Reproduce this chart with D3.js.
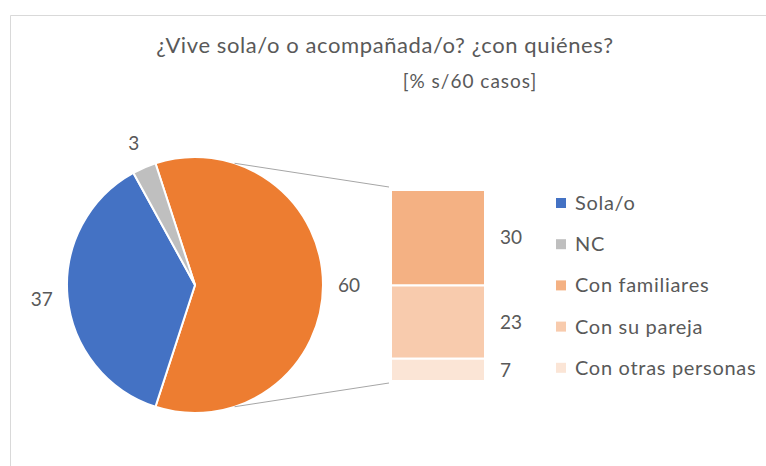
<!DOCTYPE html>
<html>
<head>
<meta charset="utf-8">
<style>
	body { margin: 0; background: #fff; }
	text { font-family: Lato, "Open Sans", sans-serif; fill: #595959; }
</style>
</head>
<body>
<div id="chart"></div>
<script src="https://d3js.org/d3.v7.min.js"></script>
<script>
	// data
	var mainCats = ["Sola/o", "NC"];
	var mainVals = [37, 3];
	var mainColors = ["#4472C4", "#BFBFBF"];
	var subCats = ["Con familiares", "Con su pareja", "Con otras personas"];
	var subVals = [30, 23, 7];
	var subColors = ["#F4B183", "#F8CBAD", "#FBE5D6"];
	var otherColor = "#ED7D31";

	var width = 766, height = 466;
	var cx = 195, cy = 285, r = 128;

	var svg = d3.select("#chart").append("svg")
		.attr("width", width)
		.attr("height", height);

	// chart frame
	svg.append("path")
		.attr("d", "M10.5," + height + "V15.5H" + width)
		.attr("fill", "none")
		.attr("stroke", "#D9D9D9")
		.attr("stroke-width", 1);

	// title
	svg.append("text")
		.attr("x", 385).attr("y", 53)
		.attr("text-anchor", "middle")
		.style("font-size", "22px")
		.style("letter-spacing", "0.6px")
		.text("¿Vive sola/o o acompañada/o? ¿con quiénes?");
	svg.append("text")
		.attr("x", 470).attr("y", 88)
		.attr("text-anchor", "middle")
		.style("font-size", "19px")
		.style("letter-spacing", "1px")
		.text("[% s/60 casos]");

	var otherSum = d3.sum(subVals);
	var total = otherSum + d3.sum(mainVals);
	var otherAngle = 2 * Math.PI * otherSum / total;
	var start = Math.PI / 2 - otherAngle / 2;

	var pieData = [{v: otherSum, c: otherColor}].concat(mainVals.map(function(v, i){
		return {v: v, c: mainColors[i]};
	}));

	var pie = d3.pie().sort(null).value(function(d){ return d.v; })
		.startAngle(start).endAngle(start + 2 * Math.PI);
	var arc = d3.arc().innerRadius(0).outerRadius(r);
	var labelArc = d3.arc().innerRadius(154).outerRadius(154);

	var g = svg.append("g").attr("transform", "translate(" + cx + "," + cy + ")");
	var arcs = pie(pieData);

	g.selectAll(".slice")
		.data(arcs)
		.enter().append("path")
		.attr("class", "slice")
		.attr("d", arc)
		.attr("fill", function(d){ return d.data.c; })
		.attr("stroke", "#fff")
		.attr("stroke-width", 2);

	g.selectAll(".plabel")
		.data(arcs)
		.enter().append("text")
		.attr("class", "plabel")
		.attr("transform", function(d){ return "translate(" + labelArc.centroid(d) + ")"; })
		.attr("text-anchor", "middle")
		.attr("dy", "0.35em")
		.style("font-size", "19px")
		.text(function(d){ return d.data.v; });

	// bar of "other"
	var barX = 391, barW = 94, barTop = 190, barBot = 381;
	var y = d3.scaleLinear().domain([0, otherSum]).range([barTop, barBot]);
	var cum = 0;
	var stack = subVals.map(function(v, i){
		var s = {y0: cum, y1: cum + v, v: v, c: subColors[i]};
		cum += v;
		return s;
	});

	svg.selectAll(".seg")
		.data(stack)
		.enter().append("rect")
		.attr("class", "seg")
		.attr("x", barX)
		.attr("y", function(d){ return y(d.y0); })
		.attr("width", barW)
		.attr("height", function(d){ return y(d.y1) - y(d.y0); })
		.attr("fill", function(d){ return d.c; })
		.attr("stroke", "#fff")
		.attr("stroke-width", 2);

	svg.selectAll(".blabel")
		.data(stack)
		.enter().append("text")
		.attr("class", "blabel")
		.attr("x", barX + barW + 15)
		.attr("y", function(d){ return (y(d.y0) + y(d.y1)) / 2; })
		.attr("dy", "0.35em")
		.style("font-size", "19px")
		.text(function(d){ return d.v; });

	// connector lines from pie to bar
	var a1 = -arcs[0].startAngle, a2 = Math.PI + arcs[0].startAngle;
	var conn = [
		[cx + r * Math.sin(a1), cy - r * Math.cos(a1), barX - 2, barTop - 3],
		[cx + r * Math.sin(a2), cy - r * Math.cos(a2), barX - 2, barBot + 2]
	];
	svg.selectAll(".conn")
		.data(conn)
		.enter().append("line")
		.attr("x1", function(d){ return d[0]; })
		.attr("y1", function(d){ return d[1]; })
		.attr("x2", function(d){ return d[2]; })
		.attr("y2", function(d){ return d[3]; })
		.attr("stroke", "#A6A6A6")
		.attr("stroke-width", 1);

	// legend
	var legCats = mainCats.concat(subCats);
	var legColors = mainColors.concat(subColors);
	var legend = svg.selectAll(".legend")
		.data(legCats)
		.enter().append("g")
		.attr("class", "legend")
		.attr("transform", function(d, i){ return "translate(556," + (203 + i * 41.2) + ")"; });

	legend.append("rect")
		.attr("x", 0).attr("y", -5)
		.attr("width", 10).attr("height", 10)
		.attr("fill", function(d, i){ return legColors[i]; });

	legend.append("text")
		.attr("x", 19)
		.attr("dy", "0.35em")
		.style("font-size", "20px")
		.style("letter-spacing", "0.7px")
		.text(function(d){ return d; });
</script>
</body>
</html>
